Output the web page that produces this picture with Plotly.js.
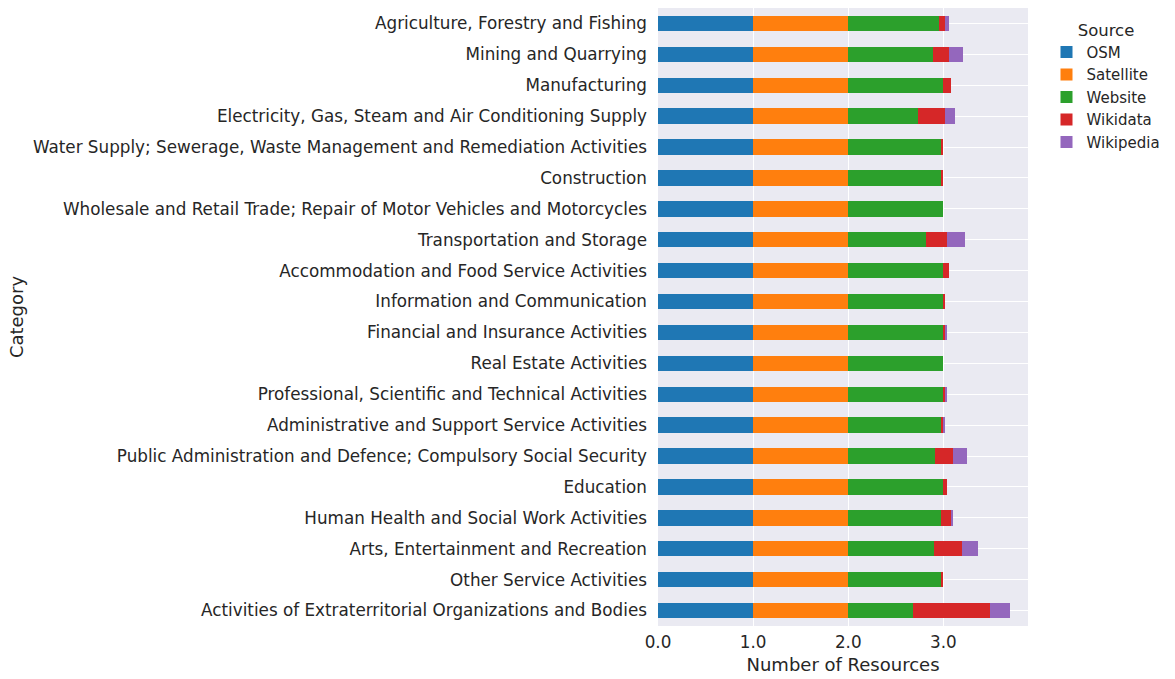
<!DOCTYPE html>
<html>
<head>
<meta charset="utf-8">
<script src="https://cdn.plot.ly/plotly-3.0.1.min.js"></script>
<style>body{margin:0;padding:0;background:#fff}#chart{width:1175px;height:679px}</style>
</head>
<body>
<div id="chart"></div>
<script>
const categories = [
  "Agriculture, Forestry and Fishing",
  "Mining and Quarrying",
  "Manufacturing",
  "Electricity, Gas, Steam and Air Conditioning Supply",
  "Water Supply; Sewerage, Waste Management and Remediation Activities",
  "Construction",
  "Wholesale and Retail Trade; Repair of Motor Vehicles and Motorcycles",
  "Transportation and Storage",
  "Accommodation and Food Service Activities",
  "Information and Communication",
  "Financial and Insurance Activities",
  "Real Estate Activities",
  "Professional, Scientific and Technical Activities",
  "Administrative and Support Service Activities",
  "Public Administration and Defence; Compulsory Social Security",
  "Education",
  "Human Health and Social Work Activities",
  "Arts, Entertainment and Recreation",
  "Other Service Activities",
  "Activities of Extraterritorial Organizations and Bodies"
];
const osm       = [1,1,1,1,1,1,1,1,1,1,1,1,1,1,1,1,1,1,1,1];
const satellite = [1,1,1,1,1,1,1,1,1,1,1,1,1,1,1,1,1,1,1,1];
const website   = [0.958,0.895,1.0,0.737,0.979,0.979,1.0,0.82,1.0,1.0,1.0,1.0,1.0,0.979,0.916,1.0,0.979,0.905,0.979,0.684];
const wikidata  = [0.063,0.168,0.084,0.284,0.021,0.021,0,0.22,0.063,0.021,0.021,0,0.021,0.021,0.189,0.042,0.105,0.295,0.021,0.81];
const wikipedia = [0.042,0.147,0,0.105,0,0,0,0.19,0,0,0.021,0,0.021,0.021,0.147,0,0.021,0.168,0,0.21];
const seriesNames = ["OSM","Satellite","Website","Wikidata","Wikipedia"];
const seriesColors = ["#1f77b4","#ff7f0e","#2ca02c","#d62728","#9467bd"];
const seriesData = [osm, satellite, website, wikidata, wikipedia];

const traces = seriesNames.map((name, i) => ({
  type: 'bar',
  orientation: 'h',
  name: name,
  y: categories,
  x: seriesData[i],
  width: 0.5,
  marker: {color: seriesColors[i], line: {width: 0}},
  hoverinfo: 'x+y+name'
}));

const font = {family: 'DejaVu Sans, sans-serif', color: '#262626'};
const layout = {
  width: 1175, height: 679,
  margin: {l: 658, r: 147, t: 8, b: 53, pad: 0},
  barmode: 'stack',
  bargap: 0.5,
  paper_bgcolor: '#ffffff',
  plot_bgcolor: '#EAEAF2',
  font: Object.assign({size: 16.8}, font),
  showlegend: true,
  legend: {
    title: {text: 'Source', font: Object.assign({size: 16.5}, font), side: 'top center'},
    font: Object.assign({size: 15}, font),
    x: 1.05, y: 0.99, xanchor: 'left', yanchor: 'top',
    bgcolor: 'rgba(0,0,0,0)', traceorder: 'normal', itemwidth: 30,
    tracegroupgap: 0
  },
  xaxis: {
    range: [0, 3.89],
    dtick: 1, tick0: 0, tickformat: '.1f',
    showgrid: true, gridcolor: '#ffffff', gridwidth: 1,
    zeroline: false, showline: false, ticks: '',
    ticklabelstandoff: 4,
    tickfont: Object.assign({size: 16.8}, font),
    title: {text: 'Number of Resources', font: Object.assign({size: 18}, font), standoff: 7},
    automargin: false
  },
  yaxis: {
    type: 'category',
    categoryorder: 'array', categoryarray: categories,
    range: [19.5, -0.5],
    showgrid: true, gridcolor: '#ffffff', gridwidth: 1,
    zeroline: false, showline: false, ticks: '',
    ticklabelstandoff: 10,
    tickfont: Object.assign({size: 16.8}, font),
    title: {text: 'Category', font: Object.assign({size: 18}, font), standoff: 4},
    automargin: false
  }
};
Plotly.newPlot('chart', traces, layout, {displayModeBar: false, staticPlot: true});
</script>
</body>
</html>
